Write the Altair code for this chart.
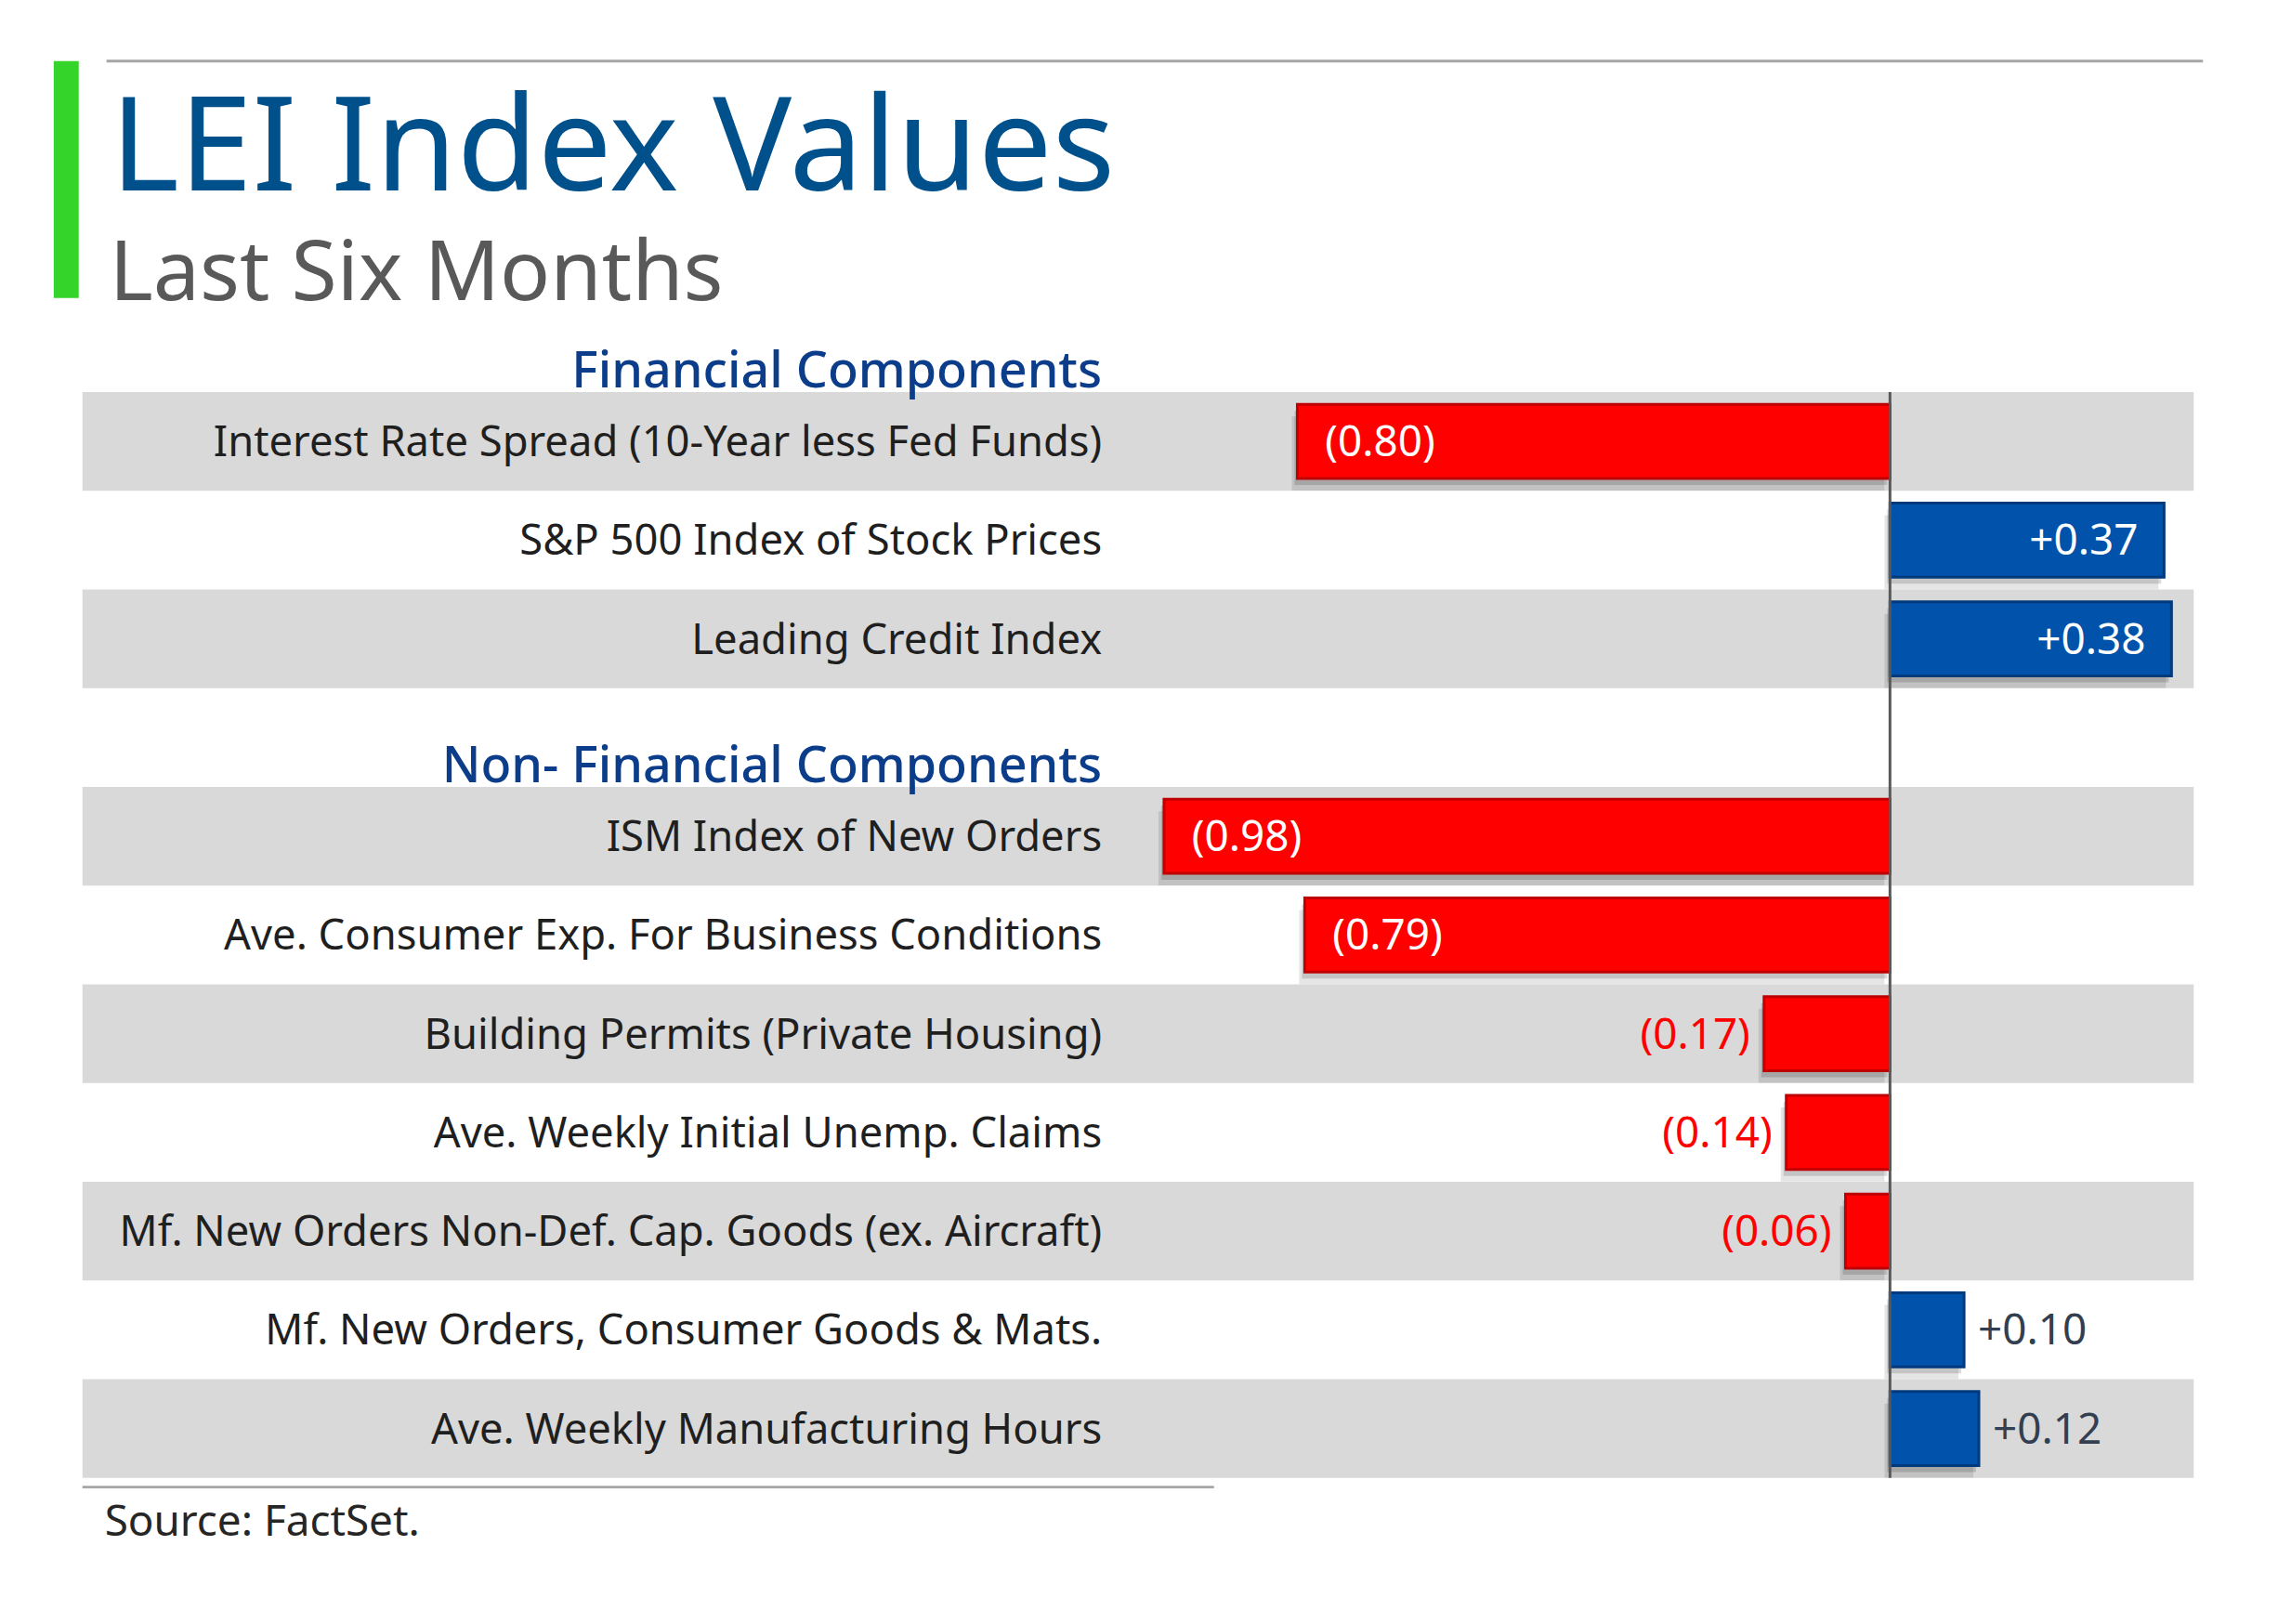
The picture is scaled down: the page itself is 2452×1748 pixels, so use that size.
import altair as alt
import pandas as pd

# ---------------- data ----------------
labels = [
    "Interest Rate Spread (10-Year less Fed Funds)",
    "S&P 500 Index of Stock Prices",
    "Leading Credit Index",
    "ISM Index of New Orders",
    "Ave. Consumer Exp. For Business Conditions",
    "Building Permits (Private Housing)",
    "Ave. Weekly Initial Unemp. Claims",
    "Mf. New Orders Non-Def. Cap. Goods (ex. Aircraft)",
    "Mf. New Orders, Consumer Goods & Mats.",
    "Ave. Weekly Manufacturing Hours",
]
values = [-0.80, 0.37, 0.38, -0.98, -0.79, -0.17, -0.14, -0.06, 0.10, 0.12]
groups = ["Financial Components"] * 3 + ["Non- Financial Components"] * 7
group_names = ["Financial Components", "Non- Financial Components"]

title_text = "LEI Index Values"
subtitle_text = "Last Six Months"
source_text = "Source: FactSet."

# ---------------- layout ----------------
FONT = "Noto Sans"
W = 2280
ROW = 106.6
slots = []
head_slot = []
for g in group_names:
    hs = f"H{len(head_slot)}"
    slots.append(hs)
    head_slot.append(hs)
    for i, gg in enumerate(groups):
        if gg == g:
            slots.append(f"R{i}")
H = ROW * len(slots)

def fmt(v):
    return f"({abs(v):.2f})" if v < 0 else f"+{v:.2f}"

pos_in_group = [groups[:i].count(g) for i, g in enumerate(groups)]

rows = pd.DataFrame({
    "slot": [f"R{i}" for i in range(len(labels))],
    "label": labels,
    "value": values,
    "txt": [fmt(v) for v in values],
    "gray": [p % 2 == 0 for p in pos_in_group],
    "big": [abs(v) >= 0.3 for v in values],
})
heads = pd.DataFrame({"slot": head_slot, "name": group_names})

xscale = alt.Scale(domain=[-2.44, 0.41], nice=False, zero=False)
yscale = alt.Scale(domain=slots, paddingInner=0, paddingOuter=0)
X = alt.X("value:Q", scale=xscale, axis=None)
Y = alt.Y("slot:N", scale=yscale, axis=None, sort=slots)

base = alt.Chart(rows)

bands = base.transform_filter("datum.gray").mark_rect(color="#D9D9D9").encode(
    y=Y, x=alt.value(0), x2=alt.value(W)
)

shadow1 = base.mark_bar(size=80, color="#000000", opacity=0.10, yOffset=13, xOffset=-6).encode(
    x=X, y=Y
)
shadow2 = base.mark_bar(size=80, color="#000000", opacity=0.14, yOffset=7, xOffset=-3).encode(
    x=X, y=Y
)

bars = base.mark_bar(size=80, strokeWidth=3).encode(
    x=X, y=Y,
    color=alt.condition("datum.value < 0", alt.value("#FF0000"), alt.value("#0052AB")),
    stroke=alt.condition("datum.value < 0", alt.value("#C00000"), alt.value("#003A7D")),
)

zero = alt.Chart(pd.DataFrame({"z": [0]})).mark_rule(color="#595959", strokeWidth=3).encode(
    x=alt.X("z:Q", scale=xscale, axis=None), y=alt.value(ROW), y2=alt.value(H)
)

row_labels = base.mark_text(align="right", baseline="middle", font=FONT, fontSize=45.5,
                            color="#1F1F1F", dy=2).encode(
    y=Y, x=alt.value(1101), text="label:N"
)

head_labels = alt.Chart(heads).mark_text(align="right", baseline="alphabetic", font=FONT,
                                         fontSize=54, fontWeight=500, color="#0B3D8A", dy=48).encode(
    y=Y, x=alt.value(1101), text="name:N"
)

def vlabel(filt, align, dx, color):
    return base.transform_filter(filt).mark_text(
        align=align, baseline="middle", font=FONT, fontSize=46, color=color, dx=dx, dy=2
    ).encode(x=X, y=Y, text="txt:N")

lab_in_neg = vlabel("datum.big && datum.value < 0", "left", 30, "#FFFFFF")
lab_in_pos = vlabel("datum.big && datum.value > 0", "right", -28, "#FFFFFF")
lab_out_neg = vlabel("!datum.big && datum.value < 0", "right", -15, "#FF0000")
lab_out_pos = vlabel("!datum.big && datum.value > 0", "left", 15, "#333F50")

one = pd.DataFrame({"k": [0]})
green = alt.Chart(one).mark_rect(color="#35D42B").encode(
    x=alt.value(-31), x2=alt.value(-4), y=alt.value(-251), y2=alt.value(5)
)
top_line = alt.Chart(one).mark_rule(color="#A6A6A6", strokeWidth=3).encode(
    x=alt.value(26), x2=alt.value(2290), y=alt.value(-251)
)
bottom_line = alt.Chart(one).mark_rule(color="#A6A6A6", strokeWidth=3).encode(
    x=alt.value(0), x2=alt.value(1222), y=alt.value(1289)
)
title = alt.Chart(one).mark_text(align="left", baseline="alphabetic", font=FONT, fontSize=142,
                                 color="#00508C").encode(
    x=alt.value(30), y=alt.value(-111), text=alt.value(title_text)
)
subtitle = alt.Chart(one).mark_text(align="left", baseline="alphabetic", font=FONT, fontSize=90,
                                    color="#595959").encode(
    x=alt.value(29), y=alt.value(7), text=alt.value(subtitle_text)
)
source = alt.Chart(one).mark_text(align="left", baseline="alphabetic", font=FONT, fontSize=46,
                                  color="#262626").encode(
    x=alt.value(24), y=alt.value(1342), text=alt.value(source_text)
)

chart = alt.layer(
    bands, shadow1, shadow2, bars, zero, row_labels, head_labels,
    lab_in_neg, lab_in_pos, lab_out_neg, lab_out_pos,
    green, top_line, bottom_line, title, subtitle, source,
).properties(
    width=W, height=H,
    autosize=alt.AutoSizeParams(type="none"),
    padding={"left": 81, "top": 306, "right": 83, "bottom": 155},
    background="white",
).configure_view(stroke=None)

chart.save("out.html", embed_options={"renderer": "svg", "actions": False})
